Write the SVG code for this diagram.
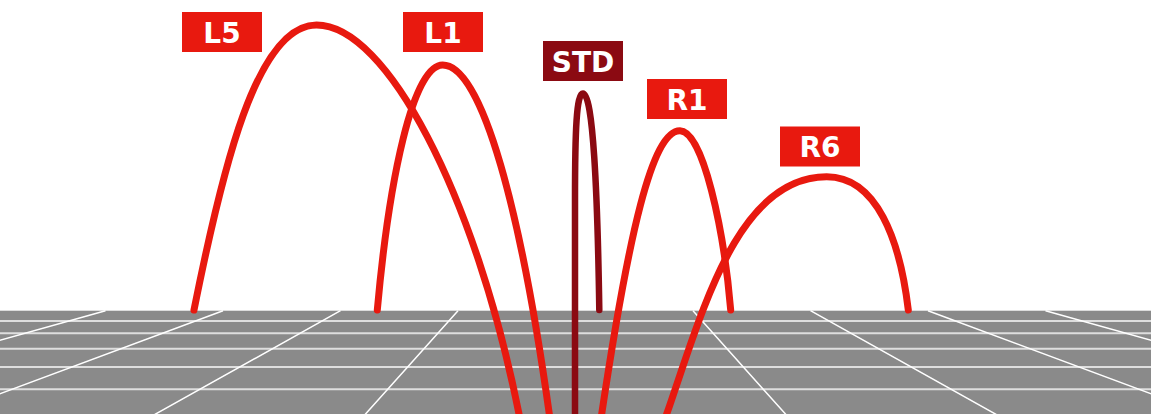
<svg xmlns="http://www.w3.org/2000/svg" width="1151" height="414" viewBox="0 0 1151 414">
<style>
.floor{fill:#8a8a8a}
.hl{stroke:#dedede;stroke-width:2;fill:none}
.pl{stroke:#ffffff;stroke-width:1.5;fill:none}
.arc{fill:none;stroke:#e8190f;stroke-width:7;stroke-linecap:round;stroke-linejoin:round}
.arc.std{stroke:#8b0a12;stroke-width:6.5}
.tag rect{fill:#e8190f}
.tag.std rect{fill:#8b0a12}
.tag text{fill:#ffffff;font-family:"DejaVu Sans",sans-serif;font-weight:700;font-size:28px;text-anchor:middle}
</style>
<rect width="1151" height="414" fill="#ffffff"/>
<g id="ground">
<rect class="floor" x="0" y="310.7" width="1151" height="104"/>
<path class="hl" d="M0,321H1151M0,333.3H1151M0,348.7H1151M0,367H1151M0,389.3H1151"/>
<path class="pl" d="M105.5,310.7L-321.5,430M223,310.7L-97.3,430M340.5,310.7L127,430M458,310.7L351.2,430M693,310.7L799.8,430M810.5,310.7L1024,430M928,310.7L1248.3,430M1045.5,310.7L1472.5,430"/>
</g>
<g id="connectors">
<path id="arc-L5" class="arc" d="M194,310 C222,170 256.5,25 316.5,25 C386.5,25 475,194 519,414 L523,434"/>
<path id="arc-L1" class="arc" d="M377.3,310 C389,180 412.7,65 442.7,65 C482.7,65 521.3,214 549.3,414 L552.1,434"/>
<path id="arc-STD" class="arc std" d="M599.3,310 C597.5,190 593,93.5 583,93.5 C576.5,93.5 575,130 575,200 L575,434"/>
<path id="arc-R1" class="arc" d="M730.7,310 C724,230 703,130.7 680,130.7 C652,130.7 628.7,234 601.7,414 L598.7,434"/>
<path id="arc-R6" class="arc" d="M908.3,310 C900,240 876.7,176.7 826.7,176.7 C736.7,176.7 701.7,314 666.7,414 L659.7,434"/>
</g>
<g id="node-L5" class="tag"><rect x="182" y="12" width="80" height="40"/><text x="222" y="42.5">L5</text></g>
<g id="node-L1" class="tag"><rect x="403" y="12" width="80" height="40"/><text x="443" y="42.5">L1</text></g>
<g id="node-STD" class="tag std"><rect x="543" y="41" width="80" height="40"/><text x="583" y="72">STD</text></g>
<g id="node-R1" class="tag"><rect x="647" y="79" width="80" height="40"/><text x="687" y="110">R1</text></g>
<g id="node-R6" class="tag"><rect x="780" y="126.5" width="80" height="40"/><text x="820" y="157.3">R6</text></g>
</svg>
